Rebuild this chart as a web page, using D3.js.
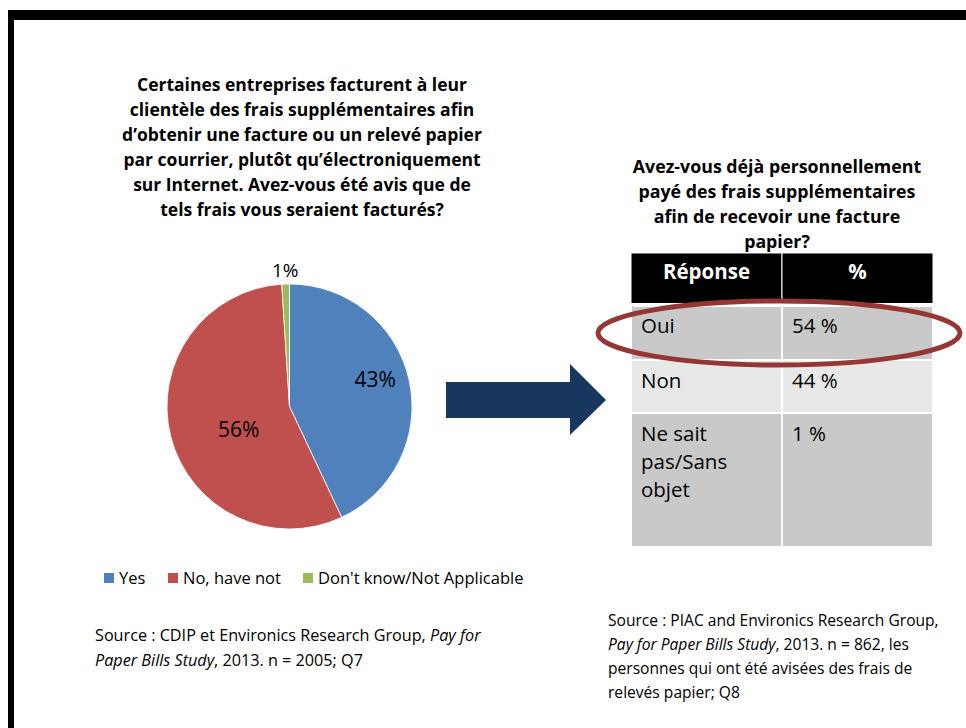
<!DOCTYPE html>
<html>
<head>
<meta charset="utf-8">
<script src="https://cdn.jsdelivr.net/npm/d3@7"></script>
<style>
    body { margin: 0; background: #fff; }
    svg { display: block; font-family: "Open Sans", sans-serif; }
</style>
</head>
<body>
<div id="chart"></div>
<script>
/*
pie chart + answer table, rebuilt with d3
 */

// pie data
var pieCategories = ["Yes", "No, have not", "Don't know/Not Applicable"];
var pieValues = [43, 56, 1];
var pieColors = ["#4f81bd", "#c0504d", "#9bbb59"];

// table data
var tableHeader = ["Réponse", "%"];
var tableAnswers = [["Oui"], ["Non"], ["Ne sait", "pas/Sans", "objet"]];
var tablePercents = ["54 %", "44 %", "1 %"];

var leftTitle = [
    "Certaines entreprises facturent à leur",
    "clientèle des frais supplémentaires afin",
    "d’obtenir une facture ou un relevé papier",
    "par courrier, plutôt qu’électroniquement",
    "sur Internet. Avez-vous été avis que de",
    "tels frais vous seraient facturés?"
];
var rightTitle = [
    "Avez-vous déjà personnellement",
    "payé des frais supplémentaires",
    "afin de recevoir une facture",
    "papier?"
];

var width = 966;
var height = 728;

var svg = d3.select("#chart")
    .append("svg")
    .attr("width", width)
    .attr("height", height);

// black frame (top + left)
svg.append("rect").attr("x", 8).attr("y", 10).attr("width", width - 8).attr("height", 10).attr("fill", "#000");
svg.append("rect").attr("x", 8).attr("y", 10).attr("width", 6).attr("height", height - 10).attr("fill", "#000");

// left title
var lt = svg.append("text")
    .attr("text-anchor", "middle")
    .attr("font-size", "17.5px")
    .attr("font-weight", "bold")
    .attr("fill", "#000");
leftTitle.forEach(function (line, i) {
    lt.append("tspan").attr("x", 302).attr("y", 91 + i * 25).text(line);
});

//pie:
var cx = 289.5, cy = 406.5, radius = 122.5;
var pie = d3.pie().sort(null).value(function (d) { return d; });
var arc = d3.arc().innerRadius(0).outerRadius(radius);
var arcs = pie(pieValues);

var pieG = svg.append("g").attr("transform", "translate(" + cx + "," + cy + ")");
pieG.selectAll("path")
    .data(arcs)
    .enter()
    .append("path")
    .attr("d", arc)
    .attr("fill", function (d, i) { return pieColors[i]; })
    .attr("stroke", "#fff")
    .attr("stroke-width", 0.8);

// labels: inside for the big slices, outside for the tiny one
var labelArc = d3.arc().innerRadius(radius * 0.8).outerRadius(radius * 0.8);
var outerArc = d3.arc().innerRadius(radius + 14).outerRadius(radius + 14);
var labelShift = [[-10, -5], [44, -1], [0, 0]];
pieG.selectAll("text")
    .data(arcs)
    .enter()
    .append("text")
    .attr("transform", function (d, i) {
        var c = (d.data < 5) ? outerArc.centroid(d) : labelArc.centroid(d);
        c = [c[0] + labelShift[i][0], c[1] + labelShift[i][1]];
        return "translate(" + c + ")";
    })
    .attr("text-anchor", "middle")
    .attr("dy", "0.35em")
    .attr("font-size", function (d) { return d.data < 5 ? "19px" : "21px"; })
    .attr("fill", "#000")
    .text(function (d) { return d.data + "%"; });

// legend
var legendX = [104, 168, 303];
var legend = svg.append("g");
pieCategories.forEach(function (name, i) {
    legend.append("rect")
        .attr("x", legendX[i]).attr("y", 573)
        .attr("width", 10).attr("height", 10)
        .attr("fill", pieColors[i]);
    legend.append("text")
        .attr("x", legendX[i] + 15).attr("y", 584)
        .attr("font-size", "16.5px")
        .attr("fill", "#000")
        .text(name);
});

// left source
var ls = svg.append("text").attr("font-size", "16.2px").attr("fill", "#000");
ls.append("tspan").attr("x", 95).attr("y", 641).text("Source : CDIP et Environics Research Group, ");
ls.append("tspan").attr("font-style", "italic").text("Pay for");
var ls2 = svg.append("text").attr("font-size", "16.2px").attr("fill", "#000");
ls2.append("tspan").attr("x", 95).attr("y", 666).attr("font-style", "italic").text("Paper Bills Study");
ls2.append("tspan").text(", 2013. n = 2005; Q7");

// arrow
var arrowPts = [[446, 382], [570, 382], [570, 364], [606, 400], [570, 435], [570, 418], [446, 418]];
svg.append("path")
    .attr("d", d3.line()(arrowPts) + "Z")
    .attr("fill", "#17375e");

// right title
var rt = svg.append("text")
    .attr("text-anchor", "middle")
    .attr("font-size", "17.8px")
    .attr("font-weight", "bold")
    .attr("fill", "#000");
rightTitle.forEach(function (line, i) {
    rt.append("tspan").attr("x", 777).attr("y", 173 + i * 25).text(line);
});

// table
var colX = [631, 782, 933];
var rowY = [253, 305, 360, 413, 547];
var rowFill = ["#000", "#c9c9c9", "#e8e8e8", "#c9c9c9"];
var table = svg.append("g");

for (var r = 0; r < 4; r++) {
    for (var c = 0; c < 2; c++) {
        table.append("rect")
            .attr("x", colX[c]).attr("y", rowY[r])
            .attr("width", colX[c + 1] - colX[c])
            .attr("height", rowY[r + 1] - rowY[r])
            .attr("fill", rowFill[r])
            .attr("stroke", "#fff")
            .attr("stroke-width", r === 0 ? 1 : 2);
    }
}
// thicker white line under header
table.append("line")
    .attr("x1", colX[0]).attr("x2", colX[2])
    .attr("y1", rowY[1]).attr("y2", rowY[1])
    .attr("stroke", "#fff").attr("stroke-width", 4);

tableHeader.forEach(function (h, c) {
    table.append("text")
        .attr("x", (colX[c] + colX[c + 1]) / 2)
        .attr("y", 279)
        .attr("text-anchor", "middle")
        .attr("font-size", "20.5px")
        .attr("font-weight", "bold")
        .attr("fill", "#fff")
        .text(h);
});

tableAnswers.forEach(function (lines, r) {
    var t = table.append("text").attr("font-size", "20.5px").attr("fill", "#000");
    lines.forEach(function (line, k) {
        t.append("tspan").attr("x", colX[0] + 10).attr("y", rowY[r + 1] + 28 + k * 28).text(line);
    });
    table.append("text")
        .attr("x", colX[1] + 10)
        .attr("y", rowY[r + 1] + 28)
        .attr("font-size", "20.5px")
        .attr("fill", "#000")
        .text(tablePercents[r]);
});

// highlight ellipse round "Oui"
svg.append("ellipse")
    .attr("cx", 779).attr("cy", 333)
    .attr("rx", 181).attr("ry", 32)
    .attr("fill", "none")
    .attr("stroke", "#943634")
    .attr("stroke-width", 5);

// right source
var rsLines = [
    [["Source : PIAC and Environics Research Group,", false]],
    [["Pay for Paper Bills Study", true], [", 2013. n = 862, les", false]],
    [["personnes qui ont été avisées des frais de", false]],
    [["relevés papier; Q8", false]]
];
rsLines.forEach(function (parts, i) {
    var t = svg.append("text").attr("font-size", "15.6px").attr("fill", "#000");
    parts.forEach(function (p, k) {
        var ts = t.append("tspan").text(p[0]);
        if (k === 0) ts.attr("x", 608).attr("y", 626 + i * 24);
        if (p[1]) ts.attr("font-style", "italic");
    });
});
</script>
</body>
</html>
